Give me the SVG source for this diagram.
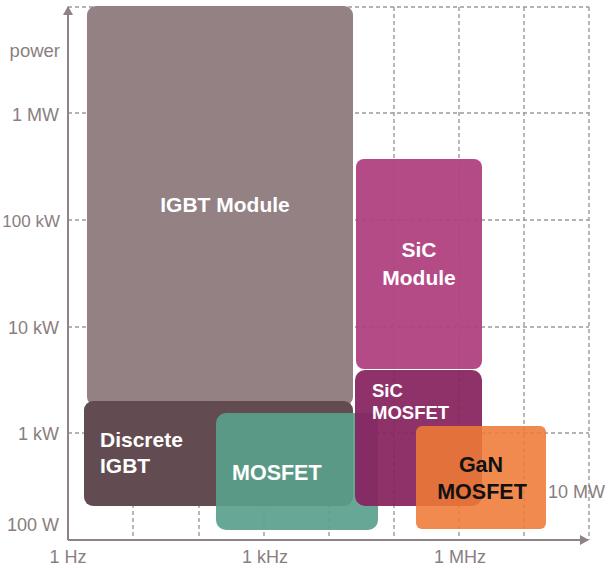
<svg xmlns="http://www.w3.org/2000/svg" width="613" height="567" viewBox="0 0 613 567">
<style>
.grid{stroke:#9a9a9a;stroke-width:1.4;stroke-dasharray:4 3;fill:none}
.axis{stroke:#8f8285;stroke-width:2;fill:none}
.lbl{font-family:"Liberation Sans",Arial,sans-serif;font-size:18px;fill:#8a7e80}
.nl{font-family:"Liberation Sans",Arial,sans-serif;font-weight:bold;font-size:21px;fill:#ffffff}
.nd{font-family:"Liberation Sans",Arial,sans-serif;font-weight:bold;font-size:21.5px;fill:#111111}
</style>
<defs>
<marker id="ah" markerWidth="10" markerHeight="10" refX="8" refY="5" orient="auto" markerUnits="userSpaceOnUse">
<path d="M0,0 L9,5 L0,10 Z" fill="#8f8285"/>
</marker>
</defs>
<g id="grid">
<path class="grid" d="M68,7 H589 M68,113 H589 M68,220 H589 M68,327 H589 M68,433 H589"/>
<path class="grid" d="M133,7 V540 M199,7 V540 M264,7 V540 M329,7 V540 M394,7 V540 M459,7 V540 M524,7 V540 M589,7 V540"/>
</g>
<g id="connectors">
<line class="axis" x1="68" y1="540" x2="68" y2="7" marker-end="url(#ah)"/>
<line class="axis" x1="68" y1="540" x2="588" y2="540" marker-end="url(#ah)"/>
</g>
<g id="labels">
<text class="lbl" x="60" y="57" text-anchor="end" style="font-size:18.5px">power</text>
<text class="lbl" x="59" y="121" text-anchor="end">1 MW</text>
<text class="lbl" x="60" y="227" text-anchor="end" style="font-size:17px">100 kW</text>
<text class="lbl" x="59" y="334" text-anchor="end">10 kW</text>
<text class="lbl" x="59" y="440" text-anchor="end">1 kW</text>
<text class="lbl" x="59" y="531" text-anchor="end">100 W</text>
<text class="lbl" x="68" y="563" text-anchor="middle">1 Hz</text>
<text class="lbl" x="265" y="563" text-anchor="middle">1 kHz</text>
<text class="lbl" x="460" y="563" text-anchor="middle">1 MHz</text>
<text class="lbl" x="548" y="498">10 MW</text>
</g>
<g id="igbt-module">
<rect x="87" y="6" width="266" height="400" rx="9" fill="#938184"/>
<text class="nl" x="225" y="212" text-anchor="middle">IGBT Module</text>
</g>
<g id="discrete-igbt">
<rect x="84" y="401" width="269" height="105" rx="9" fill="#634c51"/>
<text class="nl" x="100" y="447">Discrete</text>
<text class="nl" x="100" y="473">IGBT</text>
</g>
<g id="mosfet">
<rect x="216" y="413" width="162" height="117" rx="10" fill="#5a9f8c" fill-opacity="0.92"/>
<text class="nl" x="232" y="480" style="font-size:21.5px">MOSFET</text>
</g>
<g id="sic-module">
<rect x="356" y="159" width="126" height="210" rx="8" fill="#b0407f" fill-opacity="0.95"/>
<text class="nl" x="419" y="257" text-anchor="middle">SiC</text>
<text class="nl" x="419" y="285" text-anchor="middle">Module</text>
</g>
<g id="sic-mosfet">
<rect x="355" y="370" width="127" height="136" rx="10" fill="#86225f" fill-opacity="0.93"/>
<text class="nl" x="372" y="397" style="font-size:18.5px">SiC</text>
<text class="nl" x="372" y="419" style="font-size:18.5px">MOSFET</text>
</g>
<g id="gan-mosfet">
<rect x="416" y="426" width="130" height="103" rx="6" fill="#ee7a35" fill-opacity="0.88"/>
<text class="nd" x="481" y="472" text-anchor="middle">GaN</text>
<text class="nd" x="482" y="499" text-anchor="middle">MOSFET</text>
</g>
</svg>
